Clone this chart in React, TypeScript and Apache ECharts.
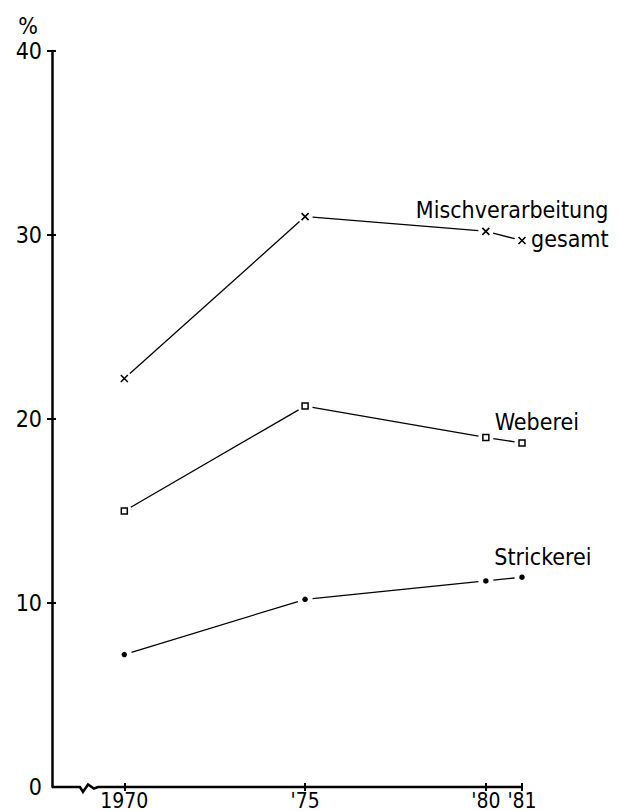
import { useEffect, useRef } from "react";
import * as echarts from "echarts";

// ---- data ----
const years = [1970, 1975, 1980, 1981];
const yearLabels: Record<number, string> = { 1970: "1970", 1975: "'75", 1980: "'80", 1981: "'81" };
const yTicks = [0, 10, 20, 30, 40];
const mischverarbeitung = [22.2, 31.0, 30.2, 29.7];
const weberei = [15.0, 20.7, 19.0, 18.7];
const strickerei = [7.2, 10.2, 11.2, 11.4];

const X_MIN = 1968;
const X_MAX = 1981;
const Y_MIN = 0;
const Y_MAX = 40;

const FONT = "'DejaVu Sans Condensed', 'DejaVu Sans', sans-serif";
const INK = "#000";
const GAP = 7.5; // px gap between a connecting line and its markers

const pts = (vals: number[]) => years.map((x, i) => [x, vals[i]]);
const segments = (vals: number[]) =>
  years.slice(1).map((x, i) => [years[i], vals[i], x, vals[i + 1]]);

const lbl = (text: string, dx: number, dy: number) => ({
  show: true,
  formatter: text,
  position: "right",
  distance: 0,
  offset: [dx, dy],
  align: "left",
  verticalAlign: "middle",
  fontSize: 23,
  fontFamily: FONT,
  color: INK,
  opacity: 1,
});

export default function App() {
  const ref = useRef<HTMLDivElement>(null);

  useEffect(() => {
    if (!ref.current) return;
    const chart = echarts.init(ref.current, null, { renderer: "svg" });

    const lineSeries = (name: string, vals: number[]) => ({
      name,
      type: "custom",
      data: segments(vals),
      encode: { x: [0, 2], y: [1, 3] },
      silent: true,
      z: 2,
      renderItem: (_params: any, api: any) => {
        const a = api.coord([api.value(0), api.value(1)]);
        const b = api.coord([api.value(2), api.value(3)]);
        const dx = b[0] - a[0];
        const dy = b[1] - a[1];
        const len = Math.sqrt(dx * dx + dy * dy) || 1;
        const ux = dx / len;
        const uy = dy / len;
        return {
          type: "line",
          shape: {
            x1: a[0] + ux * GAP,
            y1: a[1] + uy * GAP,
            x2: b[0] - ux * GAP,
            y2: b[1] - uy * GAP,
          },
          style: { stroke: INK, lineWidth: 1.3 },
        };
      },
    });

    const markerData = (vals: number[], labels: Record<number, any>) =>
      years.map((x, i) => ({
        value: [x, vals[i]],
        label: labels[i] ?? { show: false },
      }));

    const option: any = {
      animation: false,
      backgroundColor: "#fff",
      grid: { left: 52, right: 96, top: 51, bottom: 24, containLabel: false, outerBoundsMode: "none" },
      xAxis: [
        {
          type: "value",
          min: X_MIN,
          max: X_MAX,
          axisLine: { show: false },
          splitLine: { show: false },
          axisTick: {
            show: true,
            customValues: years,
            length: 4,
            lineStyle: { color: INK, width: 2 },
          },
          axisLabel: {
            show: true,
            customValues: years,
            formatter: (v: number) => yearLabels[v] ?? "",
            fontSize: 21,
            lineHeight: 21,
            fontFamily: FONT,
            color: INK,
            margin: 3,
          },
        },
        {
          type: "value",
          min: X_MIN,
          max: X_MAX,
          position: "bottom",
          axisLine: { show: false },
          splitLine: { show: false },
          axisLabel: { show: false },
          axisTick: {
            show: true,
            inside: true,
            customValues: years,
            length: 4,
            lineStyle: { color: INK, width: 2 },
          },
        },
      ],
      yAxis: [
        {
          type: "value",
          min: Y_MIN,
          max: Y_MAX,
          interval: 10,
          name: "%",
          nameLocation: "end",
          nameGap: 14,
          nameTextStyle: {
            fontSize: 23,
            fontFamily: FONT,
            color: INK,
            align: "right",
            padding: [0, 14, 0, 0],
          },
          axisLine: { show: true, lineStyle: { color: INK, width: 2.5 } },
          splitLine: { show: false },
          axisTick: {
            show: true,
            customValues: yTicks.slice(1),
            length: 5,
            lineStyle: { color: INK, width: 2 },
          },
          axisLabel: {
            customValues: yTicks,
            fontSize: 23,
            fontFamily: FONT,
            color: INK,
            margin: 10,
          },
        },
        {
          type: "value",
          min: Y_MIN,
          max: Y_MAX,
          interval: 10,
          position: "left",
          axisLine: { show: false },
          splitLine: { show: false },
          axisLabel: { show: false },
          axisTick: {
            show: true,
            inside: true,
            customValues: yTicks.slice(1),
            length: 4,
            lineStyle: { color: INK, width: 2 },
          },
        },
      ],
      series: [
        lineSeries("Mischverarbeitung gesamt", mischverarbeitung),
        lineSeries("Weberei", weberei),
        lineSeries("Strickerei", strickerei),
        {
          type: "scatter",
          name: "Mischverarbeitung gesamt",
          data: markerData(mischverarbeitung, {
            2: lbl("Mischverarbeitung", -76, -21),
            3: lbl("gesamt", 3, -2),
          }),
          symbol: "path://M0,0L10,10M10,0L0,10",
          symbolSize: 7,
          itemStyle: { color: "none", borderColor: INK, borderWidth: 1.6, opacity: 1 },
          silent: true,
          z: 4,
        },
        {
          type: "scatter",
          name: "Weberei",
          data: markerData(weberei, { 3: lbl("Weberei", -31, -21) }),
          symbol: "rect",
          symbolSize: 6,
          itemStyle: { color: "#fff", borderColor: INK, borderWidth: 1.5, opacity: 1 },
          silent: true,
          z: 4,
        },
        {
          type: "scatter",
          name: "Strickerei",
          data: markerData(strickerei, { 3: lbl("Strickerei", -30.5, -20) }),
          symbol: "circle",
          symbolSize: 5.5,
          itemStyle: { color: INK, opacity: 1 },
          silent: true,
          z: 4,
        },
      ],
    };

    chart.setOption(option);

    // x axis line with a break mark near the origin
    const o = chart.convertToPixel({ gridIndex: 0 }, [X_MIN, Y_MIN]) as number[];
    const e = chart.convertToPixel({ gridIndex: 0 }, [X_MAX, Y_MIN]) as number[];
    chart.setOption({
      graphic: [
        {
          type: "polyline",
          z: 10,
          shape: {
            points: [
              [o[0], o[1]],
              [o[0] + 28, o[1]],
              [o[0] + 31, o[1] + 5],
              [o[0] + 36, o[1] - 2.5],
              [o[0] + 42, o[1] + 1.5],
              [o[0] + 46, o[1]],
              [e[0], e[1]],
            ],
          },
          style: { stroke: INK, lineWidth: 2.5, fill: "none" },
        },
      ],
    });

    return () => chart.dispose();
  }, []);

  return (
    <div
      ref={ref}
      style={{ position: "absolute", left: 0, top: 0, width: 618, height: 811, background: "#fff" }}
    />
  );
}
